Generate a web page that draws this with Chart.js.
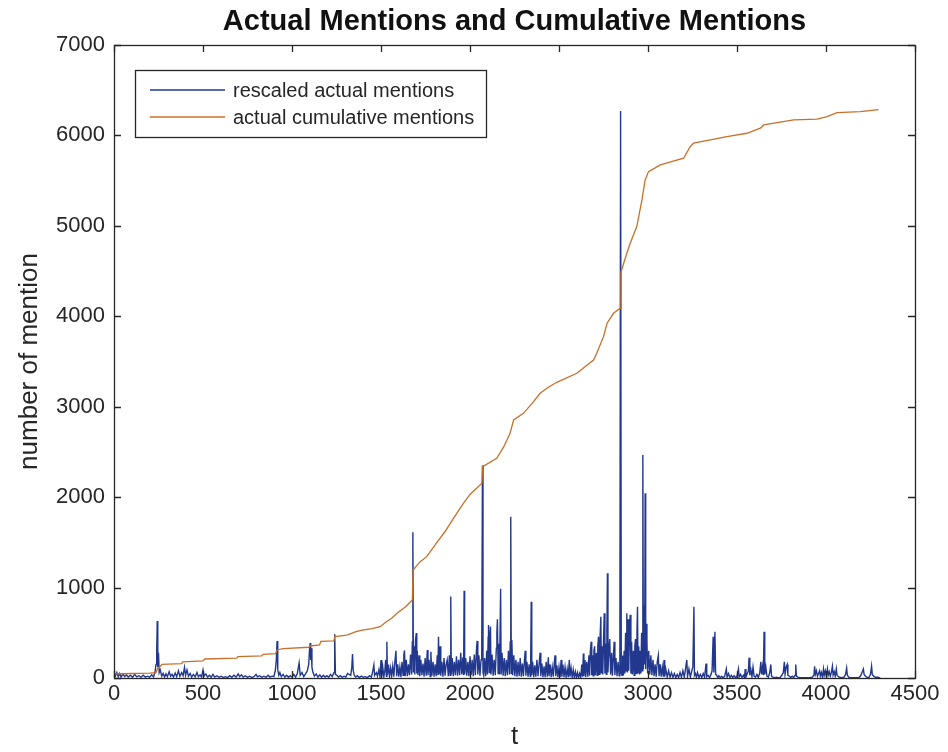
<!DOCTYPE html>
<html>
<head>
<meta charset="utf-8">
<script src="https://cdn.jsdelivr.net/npm/chart.js@4/dist/chart.umd.min.js"></script>
<style>
html,body{margin:0;padding:0;background:#fff;}
#wrap{width:948px;height:752px;}
</style>
</head>
<body>
<div id="wrap"><canvas id="c" width="948" height="752"></canvas></div>
<script>
// ---------- DATA ----------
const chartTitle = "Actual Mentions and Cumulative Mentions";
const xTitle = "t";
const yTitle = "number of mention";
const seriesNames = ["rescaled actual mentions", "actual cumulative mentions"];
const xTicks = [0, 500, 1000, 1500, 2000, 2500, 3000, 3500, 4000, 4500];
const yTicks = [0, 1000, 2000, 3000, 4000, 5000, 6000, 7000];

// rescaled actual mentions, [t, value]
const mentions0to1000 = [[0,40],[8,20],[16,60],[24,15],[32,50],[40,10],[50,45],[60,15],[70,35],[80,10],[92,30],[104,8],[116,40],[128,12],[140,25],[152,8],[164,30],[176,10],[188,20],[200,8],[212,35],[222,12],[230,60],[236,150],[240,320],[243,630],[246,120],[250,280],[254,60],[260,90],[268,20],[276,50],[284,10],[292,45],[300,15],[310,70],[318,20],[326,40],[334,10],[344,55],[352,15],[362,80],[370,20],[380,60],[388,25],[396,118],[402,30],[410,90],[418,20],[428,50],[436,10],[446,40],[456,12],[466,60],[474,15],[484,35],[492,10],[500,90],[506,20],[516,45],[526,10],[536,30],[546,8],[556,40],[566,10],[578,25],[590,8],[602,20],[614,5],[626,15],[638,5],[650,25],[662,8],[674,30],[686,10],[698,45],[706,15],[716,35],[726,10],[738,25],[750,8],[762,20],[774,5],[786,15],[798,40],[806,12],[818,25],[830,8],[842,20],[854,8],[866,30],[876,10],[888,20],[898,15],[906,80],[912,200],[916,409],[920,90],[926,30],[932,60],[940,15],[950,40],[960,10],[970,30],[980,8],[990,25],[1000,10]];
const mentions1000to1500 = [[1010,40],[1020,10],[1030,50],[1040,166],[1046,30],[1056,60],[1066,15],[1076,45],[1086,80],[1094,150],[1098,300],[1102,387],[1105,200],[1108,330],[1112,120],[1118,60],[1126,20],[1136,45],[1146,10],[1156,35],[1166,8],[1176,30],[1186,10],[1196,25],[1206,8],[1216,40],[1226,15],[1236,60],[1240,485],[1244,40],[1252,30],[1262,10],[1272,25],[1282,8],[1292,20],[1302,10],[1312,50],[1330,30],[1336,120],[1340,265],[1344,80],[1350,30],[1358,10],[1368,25],[1378,5],[1390,20],[1400,8],[1412,15],[1424,5],[1436,25],[1446,10],[1452,60],[1460,144],[1464,30],[1474,60],[1480,20],[1488,90],[1494,15],[1500,199]];
const mentions1500to2000 = [[1504,10],[1510,120],[1516,15],[1522,90],[1526,200],[1530,20],[1533,402],[1536,30],[1542,150],[1548,10],[1554,110],[1560,20],[1566,130],[1572,15],[1578,180],[1584,300],[1588,20],[1594,150],[1600,15],[1606,120],[1612,10],[1618,180],[1624,30],[1628,250],[1632,305],[1636,20],[1642,200],[1648,20],[1654,150],[1660,30],[1666,260],[1672,40],[1676,400],[1679,1611],[1682,60],[1686,350],[1690,40],[1694,420],[1698,497],[1701,50],[1704,300],[1708,30],[1714,250],[1718,20],[1724,200],[1730,30],[1736,160],[1742,15],[1748,220],[1754,25],[1760,310],[1764,30],[1770,200],[1776,15],[1780,290],[1786,25],[1792,180],[1798,15],[1804,150],[1810,20],[1816,250],[1820,30],[1823,457],[1827,40],[1832,350],[1836,25],[1842,180],[1848,15],[1854,220],[1860,25],[1866,150],[1872,200],[1878,20],[1884,250],[1888,30],[1892,900],[1895,40],[1900,220],[1906,20],[1912,180],[1918,30],[1924,240],[1930,25],[1936,200],[1942,30],[1948,280],[1954,40],[1960,230],[1964,30],[1967,966],[1970,40],[1976,220],[1982,25],[1988,180],[1994,20],[2000,240]];
const mentions2000to2500 = [[2006,30],[2012,200],[2018,20],[2024,260],[2030,30],[2036,300],[2040,410],[2044,40],[2050,250],[2056,25],[2062,200],[2066,300],[2070,2350],[2073,60],[2077,30],[2082,220],[2088,20],[2094,300],[2098,40],[2102,450],[2104,586],[2108,60],[2112,480],[2115,570],[2118,40],[2124,260],[2130,25],[2136,200],[2142,30],[2148,330],[2151,500],[2154,649],[2158,50],[2162,380],[2166,40],[2172,988],[2175,40],[2180,280],[2186,25],[2192,220],[2198,20],[2204,200],[2210,30],[2216,300],[2222,40],[2226,400],[2229,1784],[2232,50],[2235,420],[2240,30],[2246,250],[2252,20],[2258,200],[2264,15],[2270,180],[2276,20],[2282,220],[2288,15],[2294,160],[2300,20],[2306,200],[2310,300],[2314,25],[2320,180],[2326,15],[2332,150],[2338,20],[2341,200],[2344,844],[2347,30],[2352,180],[2358,10],[2364,140],[2370,15],[2376,200],[2382,20],[2388,150],[2394,280],[2398,20],[2404,160],[2410,10],[2416,130],[2422,10],[2428,180],[2434,15],[2440,230],[2444,20],[2450,150],[2456,10],[2462,120],[2468,15],[2474,180],[2478,250],[2482,20],[2488,140],[2494,10],[2500,120]];
const mentions2500to3000 = [[2506,10],[2512,200],[2516,15],[2522,150],[2528,10],[2534,120],[2540,8],[2546,100],[2552,10],[2558,200],[2562,15],[2568,110],[2574,8],[2580,90],[2586,5],[2592,70],[2598,5],[2604,60],[2610,5],[2616,50],[2622,8],[2628,150],[2632,15],[2637,270],[2640,20],[2646,200],[2650,10],[2656,180],[2662,15],[2668,250],[2672,25],[2676,300],[2681,402],[2684,30],[2688,250],[2692,25],[2696,300],[2700,350],[2704,30],[2710,280],[2714,30],[2718,350],[2722,457],[2726,40],[2730,400],[2735,678],[2738,50],[2742,350],[2746,40],[2750,400],[2754,715],[2758,50],[2762,380],[2766,40],[2769,500],[2772,1158],[2775,60],[2780,300],[2785,430],[2790,40],[2796,280],[2800,25],[2806,250],[2810,400],[2814,30],[2820,220],[2826,20],[2832,180],[2838,25],[2842,300],[2846,6270],[2850,50],[2854,30],[2858,250],[2862,30],[2866,300],[2870,50],[2874,500],[2878,80],[2881,715],[2884,60],[2888,650],[2892,80],[2896,550],[2900,700],[2904,50],[2908,400],[2912,40],[2918,300],[2922,30],[2926,350],[2930,430],[2934,50],[2938,500],[2941,789],[2944,60],[2948,350],[2952,40],[2956,300],[2960,50],[2964,500],[2968,80],[2971,2466],[2974,100],[2978,800],[2981,150],[2984,2043],[2987,100],[2990,600],[2994,410],[2998,50]];
const mentions3000to3500 = [[3004,300],[3010,40],[3016,250],[3022,30],[3028,200],[3034,20],[3040,150],[3046,15],[3052,180],[3058,250],[3062,20],[3068,150],[3074,15],[3080,120],[3086,15],[3090,200],[3094,15],[3100,100],[3108,10],[3116,80],[3124,8],[3132,60],[3140,8],[3148,50],[3156,5],[3164,40],[3172,5],[3180,60],[3188,8],[3196,80],[3204,10],[3212,120],[3218,200],[3222,15],[3230,100],[3238,10],[3246,80],[3252,120],[3258,789],[3261,30],[3266,50],[3272,8],[3278,60],[3286,5],[3294,40],[3302,5],[3310,50],[3318,8],[3326,160],[3330,15],[3338,30],[3346,5],[3354,40],[3360,80],[3366,457],[3370,60],[3376,512],[3380,40],[3386,30],[3392,5],[3398,25],[3406,3],[3414,20],[3422,3],[3430,15],[3440,100],[3444,10],[3452,50],[3460,5],[3468,30],[3476,5],[3484,25],[3492,3],[3500,20]];
const mentions3500to4300 = [[3508,100],[3512,10],[3520,40],[3528,5],[3536,30],[3542,5],[3546,100],[3550,10],[3558,50],[3564,80],[3568,225],[3572,30],[3578,90],[3584,15],[3590,120],[3596,20],[3604,10],[3612,40],[3620,5],[3628,60],[3634,180],[3638,40],[3644,130],[3648,30],[3652,512],[3656,40],[3662,120],[3668,20],[3676,10],[3684,60],[3690,150],[3694,20],[3702,10],[3712,3],[3722,8],[3732,3],[3742,5],[3752,30],[3760,60],[3766,180],[3770,40],[3776,120],[3782,150],[3786,30],[3794,20],[3802,5],[3810,20],[3818,5],[3826,30],[3830,150],[3834,20],[3842,10],[3852,3],[3862,2],[3872,3],[3882,2],[3892,3],[3902,2],[3912,5],[3922,8],[3932,30],[3936,130],[3940,40],[3946,80],[3952,20],[3958,50],[3964,80],[3968,20],[3974,60],[3980,10],[3986,100],[3990,30],[3996,80],[4002,20],[4008,100],[4012,30],[4018,70],[4024,20],[4030,60],[4036,130],[4040,30],[4046,70],[4052,20],[4058,100],[4062,30],[4070,15],[4080,5],[4090,3],[4100,8],[4110,40],[4116,110],[4120,30],[4128,10],[4138,3],[4150,2],[4162,3],[4174,2],[4186,5],[4196,30],[4204,70],[4210,100],[4214,40],[4222,20],[4232,5],[4242,8],[4250,40],[4256,130],[4260,40],[4268,20],[4278,8],[4290,10],[4300,3],[4305,2]];

// actual cumulative mentions, [t, value]
const cumulativeMentions = [[0,45],[100,50],[200,55],[236,60],[244,100],[270,150],[380,160],[386,178],[500,190],[510,210],[690,220],[696,236],[830,245],[838,262],[908,270],[916,310],[950,325],[1095,340],[1102,354],[1155,365],[1162,405],[1235,410],[1241,457],[1308,475],[1360,512],[1395,530],[1450,545],[1495,568],[1530,623],[1560,660],[1590,715],[1640,790],[1676,862],[1680,1194],[1720,1287],[1757,1342],[1810,1490],[1860,1620],[1907,1766],[1963,1932],[2000,2030],[2067,2153],[2071,2337],[2150,2430],[2190,2558],[2225,2706],[2245,2853],[2300,2927],[2350,3040],[2394,3149],[2440,3215],[2488,3270],[2600,3370],[2694,3517],[2712,3591],[2750,3775],[2770,3923],[2806,4033],[2844,4089],[2848,4490],[2881,4697],[2900,4808],[2937,4992],[2966,5287],[2984,5508],[3003,5600],[3069,5674],[3200,5748],[3237,5876],[3256,5914],[3350,5950],[3443,5987],[3556,6024],[3631,6080],[3650,6116],[3818,6172],[3949,6180],[4006,6208],[4062,6252],[4193,6263],[4296,6285]];

const toXY = arr => arr.map(p => ({x: p[0], y: p[1]}));
const mentionsAll = [].concat(mentions0to1000, mentions1000to1500, mentions1500to2000, mentions2000to2500, mentions2500to3000, mentions3000to3500, mentions3500to4300);

const BLUE = '#22388F';
const ORANGE = '#C8702A';
const INK = '#262626';
const FONT = "'Liberation Sans', Arial, Helvetica, sans-serif";

const boxPlugin = {
  id: 'matlabBox',
  afterDatasetsDraw(chart) {
    const {ctx, chartArea: a, scales} = chart;
    ctx.save();
    ctx.strokeStyle = INK;
    ctx.lineWidth = 1.3;
    const tl = 7;
    ctx.beginPath();
    scales.x.ticks.forEach(t => {
      const px = Math.round(scales.x.getPixelForValue(t.value)) + 0.5;
      ctx.moveTo(px, a.bottom); ctx.lineTo(px, a.bottom - tl);
      ctx.moveTo(px, a.top); ctx.lineTo(px, a.top + tl);
    });
    scales.y.ticks.forEach(t => {
      const py = Math.round(scales.y.getPixelForValue(t.value)) + 0.5;
      ctx.moveTo(a.left, py); ctx.lineTo(a.left + tl, py);
      ctx.moveTo(a.right, py); ctx.lineTo(a.right - tl, py);
    });
    ctx.stroke();
    ctx.strokeRect(Math.round(a.left) + 0.5, Math.round(a.top) + 0.5, Math.round(a.right - a.left), Math.round(a.bottom - a.top));

    // legend box inside the axes
    const lx = a.left + 21, ly = a.top + 25, lw = 351, lh = 67;
    ctx.fillStyle = '#fff';
    ctx.fillRect(lx, ly, lw, lh);
    ctx.strokeRect(Math.round(lx) + 0.5, Math.round(ly) + 0.5, lw, lh);
    ctx.font = '20px ' + FONT;
    ctx.textBaseline = 'middle';
    ctx.textAlign = 'left';
    chart.data.datasets.forEach((ds, i) => {
      const y = ly + 20 + i * 27;
      ctx.strokeStyle = ds.borderColor;
      ctx.lineWidth = 1.5;
      ctx.beginPath(); ctx.moveTo(lx + 15, y); ctx.lineTo(lx + 90, y); ctx.stroke();
      ctx.fillStyle = INK;
      ctx.fillText(ds.label, lx + 98, y + 1);
    });
    ctx.restore();
  }
};

new Chart(document.getElementById('c'), {
  type: 'line',
  data: {
    datasets: [
      {label: seriesNames[0], data: toXY(mentionsAll), borderColor: BLUE, borderWidth: 1.4, pointRadius: 0, fill: false, tension: 0, order: 1},
      {label: seriesNames[1], data: toXY(cumulativeMentions), borderColor: ORANGE, borderWidth: 1.3, pointRadius: 0, fill: false, tension: 0, order: 0}
    ]
  },
  options: {
    responsive: false,
    animation: false,
    layout: {padding: {left: 0, right: 33, top: 0, bottom: 0}},
    plugins: {
      legend: {display: false},
      tooltip: {enabled: false},
      title: {display: true, fullSize: false, text: chartTitle, color: '#111', font: {family: FONT, size: 29, weight: 'bold'}, padding: {top: 5, bottom: 5.2}}
    },
    scales: {
      x: {
        type: 'linear', min: 0, max: 4500,
        afterBuildTicks: s => { s.ticks = xTicks.map(v => ({value: v})); },
        afterFit: s => { s.height = 74; },
        grid: {display: false, drawTicks: false},
        border: {display: false},
        ticks: {color: INK, font: {family: FONT, size: 22}, padding: 3, maxRotation: 0, autoSkip: false, callback: v => String(v)},
        title: {display: true, text: xTitle, color: INK, font: {family: FONT, size: 26}, padding: {top: -4, bottom: 0}}
      },
      y: {
        type: 'linear', min: 0, max: 7000,
        afterBuildTicks: s => { s.ticks = yTicks.map(v => ({value: v})); },
        afterFit: s => { s.width = 114; },
        grid: {display: false, drawTicks: false},
        border: {display: false},
        ticks: {color: INK, font: {family: FONT, size: 22}, padding: 9, autoSkip: false, callback: v => String(v)},
        title: {display: true, text: yTitle, color: INK, font: {family: FONT, size: 26}, padding: {top: 14, bottom: 0}}
      }
    }
  },
  plugins: [boxPlugin]
});
</script>
</body>
</html>
